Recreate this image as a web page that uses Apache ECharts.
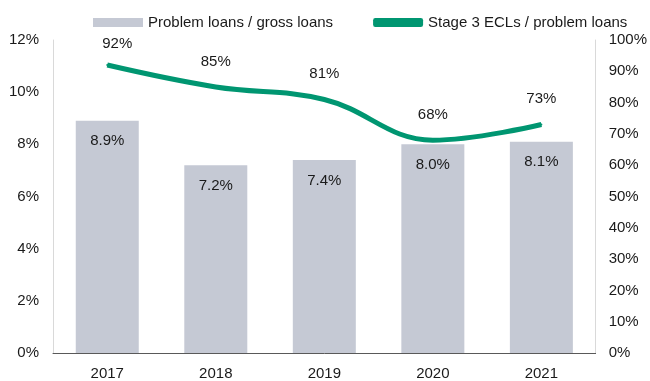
<!DOCTYPE html>
<html><head><meta charset="utf-8">
<script src="https://cdn.jsdelivr.net/npm/echarts@6/dist/echarts.min.js"></script>
<style>html,body{margin:0;padding:0;background:#fff}#c{width:650px;height:381px}</style>
</head><body><div id="c"></div>
<script>
var categories = ['2017', '2018', '2019', '2020', '2021'];
var problemLoans = [8.9, 7.2, 7.4, 8.0, 8.1];
var stage3ECL = [92, 85, 81, 68, 73];
var leftTicks = [0, 2, 4, 6, 8, 10, 12];
var rightTicks = [0, 10, 20, 30, 40, 50, 60, 70, 80, 90, 100];

var font = 'Liberation Sans, Arial, sans-serif';
var chart = echarts.init(document.getElementById('c'), null, {renderer: 'canvas'});
chart.setOption({
  animation: false,
  textStyle: {fontFamily: font},
  legend: {
    top: 10, left: 88, itemGap: 40,
    itemWidth: 50, itemHeight: 9,
    textStyle: {fontFamily: font, fontSize: 15, color: '#1a1a1a'},
    data: [
      {name: 'Problem loans / gross loans', icon: 'rect'},
      {name: 'Stage 3 ECLs / problem loans', icon: 'roundRect', itemStyle: {color: '#009671', opacity: 1}}
    ]
  },
  grid: {left: 53, right: 50, top: 40, bottom: 23, containLabel: false},
  xAxis: {
    type: 'category', data: categories,
    axisLine: {lineStyle: {color: '#595959', width: 1}},
    axisTick: {show: false},
    axisLabel: {fontFamily: font, fontSize: 15, color: '#1a1a1a', margin: 13}
  },
  yAxis: [
    {type: 'value', min: leftTicks[0], max: leftTicks[leftTicks.length-1], interval: 2,
     axisLine: {show: true, lineStyle: {color: '#d9d9d9'}},
     axisTick: {show: false}, splitLine: {show: false},
     axisLabel: {fontFamily: font, fontSize: 15, color: '#1a1a1a', margin: 14, formatter: '{value}%'}},
    {type: 'value', min: rightTicks[0], max: rightTicks[rightTicks.length-1], interval: 10,
     axisLine: {show: true, lineStyle: {color: '#d9d9d9'}},
     axisTick: {show: false}, splitLine: {show: false},
     axisLabel: {fontFamily: font, fontSize: 15, color: '#1a1a1a', margin: 13, formatter: '{value}%'}}
  ],
  series: [
    {name: 'Problem loans / gross loans', type: 'bar', yAxisIndex: 0, data: problemLoans,
     barWidth: 63, itemStyle: {color: '#c5c9d4'},
     label: {show: true, position: 'insideTop', distance: 13, fontFamily: font, fontSize: 15, color: '#1a1a1a',
       formatter: function(p){return p.value.toFixed(1) + '%';}}},
    {name: 'Stage 3 ECLs / problem loans', type: 'line', yAxisIndex: 1, data: stage3ECL,
     smooth: 0.4, symbol: 'circle', symbolSize: 2, showSymbol: true,
     lineStyle: {color: '#009671', width: 5},
     itemStyle: {color: '#009671'},
     label: {show: true, position: 'top', distance: 17, fontFamily: font, fontSize: 15, color: '#1a1a1a',
       formatter: '{c}%'},
     labelLayout: function(p){ return p.dataIndex === 0 ? {dx: 10, dy: 4} : {}; }}
  ]
});
</script></body></html>
